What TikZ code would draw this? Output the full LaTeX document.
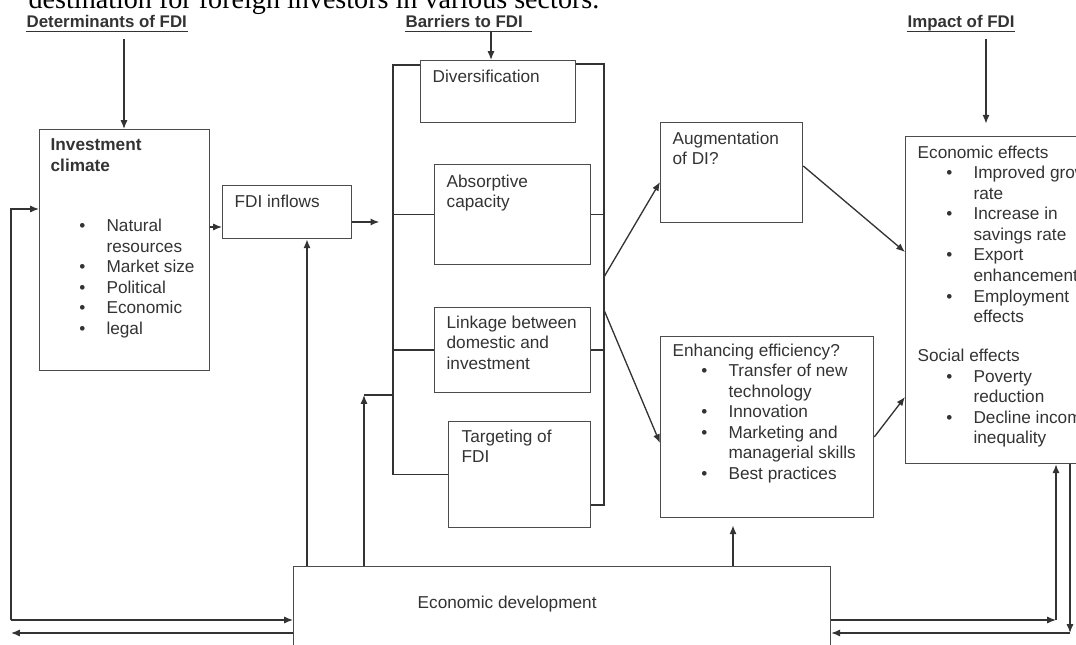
\documentclass[tikz,border=0pt]{standalone}
\usepackage{fontspec}
\setmainfont{Liberation Sans}
\newfontfamily\introfont{Liberation Serif}
\usetikzlibrary{arrows.meta}
\usetikzlibrary{calc}
\definecolor{ink}{gray}{0.2}
\definecolor{edge}{gray}{0.3}
\newcommand{\bul}[1]{\hspace*{16.4pt}\makebox[15.4pt][l]{\textbullet}#1}
\newcommand{\bulc}[1]{\hspace*{31.8pt}#1}

\begin{document}
\begin{tikzpicture}[x=0.02cm, y=-0.02cm, line width=0.75pt,
  >={Latex[length=5pt,width=4pt]},
  box/.style={draw=edge, anchor=north west, inner sep=0pt},
  txt/.style={anchor=north west, inner sep=0pt, align=left, text=ink, font=\fontsize{9.8}{11.7}\selectfont},
  head/.style={anchor=base west, inner sep=0pt, text=ink, font=\bfseries\fontsize{9.6}{11}\selectfont},
  con/.style={draw=ink}]
\useasboundingbox (0,0) rectangle (1076,645);

\node[anchor=base west, inner sep=0pt, font=\introfont\fontsize{16}{19}\selectfont] (intro) at (28,9) {destination for foreign investors in various sectors.};

\node[head] (det) at (26,28) {Determinants of FDI};
\node[head] (bar) at (405,28) {Barriers to FDI};
\node[head] (imph) at (907,28) {Impact of FDI};
\draw[ink, line width=0.8pt] ($(det.base west)+(0,3.5)$) -- ($(det.base east)+(0,3.5)$);
\draw[ink, line width=0.8pt] ($(bar.base west)+(0,3.5)$) -- ($(bar.base east)+(9,3.5)$);
\draw[ink, line width=0.8pt] ($(imph.base west)+(0,3.5)$) -- ($(imph.base east)+(0,3.5)$);

\node[box, minimum width=3.4cm, minimum height=4.82cm] (inv) at (39,129) {};
\node[box, minimum width=2.58cm, minimum height=1.06cm] (fdi) at (222,185) {};
\node[box, minimum width=3.1cm, minimum height=1.24cm] (div) at (420,60) {};
\node[box, minimum width=3.12cm, minimum height=2cm] (abs) at (434,164) {};
\node[box, minimum width=3.12cm, minimum height=1.7cm] (lnk) at (434,307) {};
\node[box, minimum width=2.84cm, minimum height=2.12cm] (tgt) at (448,421) {};
\node[box, minimum width=2.84cm, minimum height=2cm] (aug) at (660,122) {};
\node[box, minimum width=4.26cm, minimum height=3.62cm] (enh) at (660,336) {};
\node[box, minimum width=4cm, minimum height=6.54cm] (imp) at (905,136) {};
\node[box, minimum width=10.74cm, minimum height=2.4cm] (eco) at (293,566) {};

\node[txt] (invt) at ($(inv.north west)+(11,9)$) {\textbf{Investment}\\\textbf{climate}\\[22.7pt]\bul{Natural}\\\bulc{resources}\\\bul{Market size}\\\bul{Political}\\\bul{Economic}\\\bul{legal}};
\node[txt] (fdit) at ($(fdi.north west)+(12,9)$) {FDI inflows};
\node[txt] (divt) at ($(div.north west)+(12,9)$) {Diversification};
\node[txt] (abst) at ($(abs.north west)+(12,10)$) {Absorptive\\capacity};
\node[txt] (lnkt) at ($(lnk.north west)+(12,8)$) {Linkage between\\domestic and\\investment};
\node[txt] (tgtt) at ($(tgt.north west)+(13,8)$) {Targeting of\\FDI};
\node[txt] (augt) at ($(aug.north west)+(12,9)$) {Augmentation\\of DI?};
\node[txt] (enht) at ($(enh.north west)+(12,7)$) {Enhancing efficiency?\\\bul{Transfer of new}\\\bulc{technology}\\\bul{Innovation}\\\bul{Marketing and}\\\bulc{managerial skills}\\\bul{Best practices}};
\node[txt] (impt) at ($(imp.north west)+(12,9)$) {Economic effects\\\bul{Improved growth}\\\bulc{rate}\\\bul{Increase in}\\\bulc{savings rate}\\\bul{Export}\\\bulc{enhancement}\\\bul{Employment}\\\bulc{effects}\\[10.5pt]Social effects\\\bul{Poverty}\\\bulc{reduction}\\\bul{Decline income}\\\bulc{inequality}};
\node[txt, anchor=west] (ecot) at ($(eco.north west)+(124,38)$) {Economic development};

\coordinate (brL) at (393,0);
\coordinate (brR) at (604,0);
\coordinate (fbL) at (11,0);
\coordinate (fbR) at (1056,0);
\coordinate (fbRR) at (1070,0);
\coordinate (deta) at (124,39);
\coordinate (bara) at (491,31);
\coordinate (impa) at (986,39);
\coordinate (lk) at (364,395);

\draw[con,->] (deta) -- (deta |- inv.north);
\draw[con,->] (bara) -- (bara |- div.north);
\draw[con,->, shorten >=7pt] (impa) -- (impa |- imp.north);

\draw[con] ($(div.north west)+(0,5)$) -| (brL |- tgt.west) -- (tgt.west);
\draw[con] ($(div.north east)+(0,4)$) -| (brR |- 0,505) -- (tgt.east |- 0,505);
\foreach \b in {abs,lnk} {
  \draw[con] (brL |- \b.west) -- (\b.west);
  \draw[con] (\b.east) -- (brR |- \b.east);
}

\draw[con,->] (inv.east |- 0,227) -- (fdi.west |- 0,227);
\draw[con,->] (fdi.east |- 0,222) -- ++(27,0);
\draw[con,->] (brR |- 0,277) -- (aug.west |- 0,182);
\draw[con,->] (brR |- 0,310) -- (enh.west |- 0,443);
\draw[con,->] (aug.east |- 0,166) -- (imp.west |- 0,252);
\draw[con,->] (enh.east |- 0,437) -- (imp.west |- 0,397);

\draw[con,->] (eco.north -| 307,0) -- (fdi.south -| 307,0);
\draw[con,->] (eco.north -| lk) -- (lk);
\draw[con] (lk) -- (brL |- lk);
\draw[con,->, shorten >=4pt] (eco.north -| 733,0) -- (enh.south -| 733,0);

\draw[con,->] (fbL |- 0,620) |- (inv.west |- 0,209);
\draw[con,->] (fbL |- 0,620) -- (eco.west |- 0,620);
\draw[con,->] (eco.west |- 0,633) -- (fbL |- 0,633);
\draw[con,->] (eco.east |- 0,620) -- (fbR |- 0,620);
\draw[con,->] (fbR |- 0,620) -- (imp.south -| fbR);
\draw[con,->] (imp.south -| fbRR) -- (fbRR |- 0,633);
\draw[con,->] (fbRR |- 0,633) -- (eco.east |- 0,633);
\end{tikzpicture}
\end{document}
